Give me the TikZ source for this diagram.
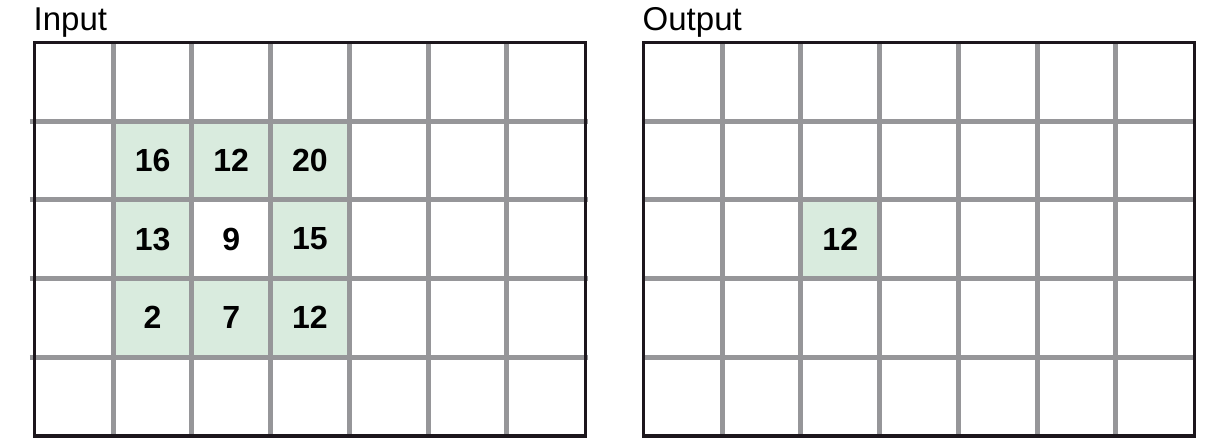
\documentclass[tikz,border=0pt]{standalone}
\usepackage{fontspec}
\setmainfont{Liberation Sans}
\usepackage{tikz}
\usetikzlibrary{positioning, calc}

\definecolor{gridgray}{RGB}{150,150,153}
\definecolor{framebk}{RGB}{28,22,28}
\definecolor{cellgreen}{RGB}{217,235,222}

\begin{document}
\begin{tikzpicture}[
			x=1pt, y=-1pt,
			title/.style={anchor=base west, inner sep=0pt, font=\fontsize{33}{39}\selectfont},
			cell/.style={rectangle, inner sep=0pt, minimum width=78.7pt, minimum height=78.65pt, font=\fontsize{32}{38}\selectfont\bfseries},
			gridline/.style={draw=gridgray, line width=5pt},
			frame/.style={draw=framebk, line width=3.6pt}
			]
			\useasboundingbox (0,0) rectangle (1207,441);
			
			\node[title] (intitle) at (33.5,31) {Input};
			\node[title] (outtitle) at (642.5,31) {Output};
			
			% input grid
			\begin{scope}[shift={(34.5,42.5)}, x=78.7pt, y=-78.65pt]
				\foreach \v/\c/\r/\f in {16/1/1/cellgreen, 12/2/1/cellgreen, 20/3/1/cellgreen,
					13/1/2/cellgreen, 9/2/2/white, 15/3/2/cellgreen,
					2/1/3/cellgreen, 7/2/3/cellgreen, 12/3/3/cellgreen}
				\node[cell, fill=\f] (in-\r-\c) at (\c+0.5,\r+0.5) {\v};
				\foreach \i in {1,...,6}
				\draw[gridline] (\i,0) -- (\i,5);
				\foreach \j in {1,...,4}
				\draw[gridline] (-0.06,\j) -- (7.03,\j);
				\draw[frame] (0,0) rectangle (7,5);
			\end{scope}
			
			% output grid
			\begin{scope}[shift={(643.5,42.5)}, x=78.7pt, y=-78.65pt]
				\node[cell, fill=cellgreen] (out-2-2) at (2.5,2.5) {12};
				\foreach \i in {1,...,6}
				\draw[gridline] (\i,0) -- (\i,5);
				\foreach \j in {1,...,4}
				\draw[gridline] (-0.02,\j) -- (7.02,\j);
				\draw[frame] (0,0) rectangle (7,5);
			\end{scope}
		\end{tikzpicture}
\end{document}
